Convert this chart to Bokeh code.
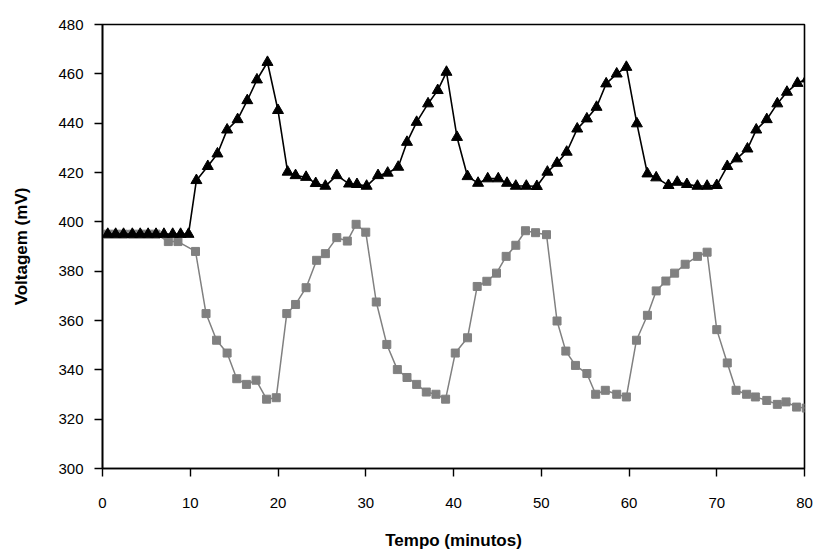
from bokeh.plotting import figure
from bokeh.embed import file_html
from bokeh.resources import INLINE
from bokeh.models import Range1d, FixedTicker

# ---- data ----
black_t = [0.6, 1.5, 2.4, 3.4, 4.3, 5.2, 6.1, 7.0, 8.0, 8.9, 9.8,
           10.7, 12.0, 13.1, 14.2, 15.4, 16.5, 17.6, 18.8, 20.0, 21.1,
           22.0, 23.2, 24.3, 25.4, 26.7, 28.1, 29.0, 30.1, 31.4, 32.5,
           33.7, 34.7, 35.8, 37.1, 38.2, 39.2, 40.4, 41.6, 42.8, 43.9,
           45.1, 46.1, 47.1, 48.3, 49.5, 50.7, 51.8, 52.9, 54.1, 55.2,
           56.3, 57.4, 58.6, 59.7, 60.9, 62.1, 63.1, 64.5, 65.5, 66.6,
           67.8, 68.9, 70.0, 71.2, 72.3, 73.5, 74.5, 75.7, 76.9, 78.0,
           79.2, 80.3]
black_v = [395, 395, 395, 395, 395, 395, 395, 395, 395, 395, 395,
           416.8, 422.5, 427.6, 437.3, 441.5, 449.2, 457.6, 464.7, 445.2, 420.2,
           418.8, 418.1, 415.6, 414.5, 418.8, 415.4, 415.2, 414.5, 418.8, 419.8,
           422.2, 432.3, 440.4, 447.9, 453.3, 460.7, 434.3, 418.4, 415.7, 417.5,
           417.5, 415.7, 414.5, 414.5, 414.4, 420.2, 423.8, 428.3, 437.7, 441.8,
           446.5, 456.0, 460.0, 462.7, 439.8, 419.5, 417.9, 414.8, 416.1, 415.2,
           414.5, 414.5, 414.8, 422.5, 425.6, 429.6, 437.3, 441.5, 447.9, 452.6,
           456.2, 458.0]

gray_t = [0.6, 1.5, 2.4, 3.4, 4.3, 5.2, 6.1, 7.5, 8.6,
          10.6, 11.8, 13.0, 14.2, 15.3, 16.4, 17.5, 18.7, 19.8, 21.0,
          22.0, 23.2, 24.4, 25.4, 26.7, 27.9, 28.9, 30.0, 31.2, 32.4,
          33.6, 34.7, 35.8, 36.9, 38.0, 39.1, 40.2, 41.6, 42.7, 43.8,
          44.9, 46.0, 47.1, 48.2, 49.35, 50.6, 51.8, 52.8, 53.9, 55.2,
          56.2, 57.3, 58.6, 59.7, 60.85, 62.1, 63.1, 64.2, 65.2, 66.4,
          67.8, 68.9, 70.0, 71.2, 72.2, 73.4, 74.4, 75.7, 76.9, 77.9,
          79.1, 80.2]
gray_v = [395, 395, 395, 395, 395, 395, 395, 392, 392,
          388.0, 362.8, 352.0, 346.8, 336.4, 334.1, 335.8, 328.1, 328.7, 362.8,
          366.5, 373.3, 384.4, 387.1, 393.6, 392.2, 399.0, 395.8, 367.5, 350.3,
          340.1, 336.9, 334.1, 331.0, 330.1, 328.1, 346.8, 353.0, 373.8, 375.9,
          379.2, 386.0, 390.5, 396.4, 395.6, 394.8, 359.8, 347.6, 341.8, 338.5,
          330.1, 331.7, 330.1, 329.0, 352.0, 362.1, 372.0, 376.0, 379.2, 382.8,
          386.0, 387.7, 356.3, 342.8, 331.7, 330.1, 329.0, 327.6, 326.0, 327.0,
          324.9, 324.5]

x_ticks = [0, 10, 20, 30, 40, 50, 60, 70, 80]
y_ticks = [300, 320, 340, 360, 380, 400, 420, 440, 460, 480]

FONT = "Liberation Sans"

p = figure(width=813, height=553, output_backend="svg", toolbar_location=None,
           x_range=Range1d(0, 80), y_range=Range1d(300, 480),
           min_border_left=102, min_border_right=9, min_border_top=24,
           min_border_bottom=85)

p.grid.visible = False
p.outline_line_color = "black"
p.outline_line_width = 1.6
p.background_fill_color = "white"
p.border_fill_color = "white"

# series
p.line(gray_t, gray_v, line_color="#808080", line_width=1.5)
p.scatter(gray_t, gray_v, marker="square", size=8, fill_color="#808080",
          line_color="#808080")
p.line(black_t, black_v, line_color="black", line_width=1.6)
p.scatter(black_t, black_v, marker="triangle", size=11, fill_color="black",
          line_color="black")

for ax in (p.xaxis[0], p.yaxis[0]):
    ax.axis_line_color = "black"
    ax.axis_line_width = 1.6
    ax.major_tick_line_color = "black"
    ax.major_tick_line_width = 1.4
    ax.major_tick_in = 0
    ax.major_tick_out = 8
    ax.minor_tick_line_color = None
    ax.major_label_text_font = FONT
    ax.major_label_text_font_size = "15px"
    ax.major_label_text_color = "black"
    ax.axis_label_text_font = FONT
    ax.axis_label_text_font_size = "17px"
    ax.axis_label_text_font_style = "bold"
    ax.axis_label_text_color = "black"

p.xaxis.ticker = FixedTicker(ticks=x_ticks)
p.yaxis.ticker = FixedTicker(ticks=y_ticks)
p.xaxis.major_label_standoff = 21
p.yaxis.major_label_standoff = 11
p.xaxis.axis_label = "Tempo (minutos)"
p.yaxis.axis_label = "Voltagem (mV)"
p.xaxis.axis_label_standoff = 20
p.yaxis.axis_label_standoff = 24

open("out.html", "w").write(file_html(p, INLINE))
